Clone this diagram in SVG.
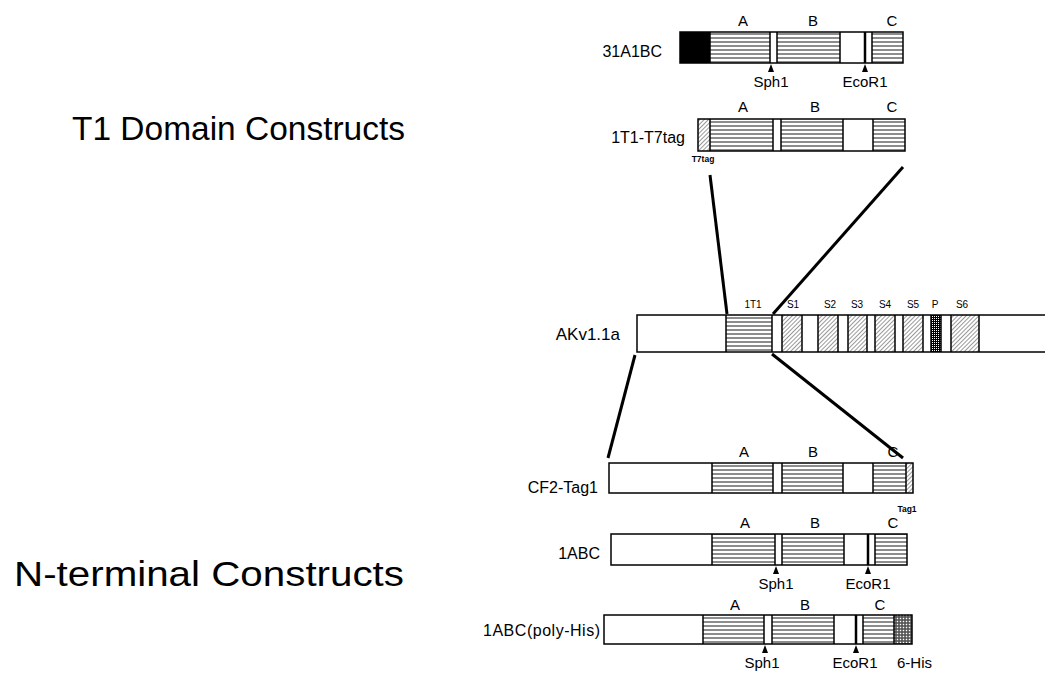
<svg xmlns="http://www.w3.org/2000/svg" width="1045" height="675" viewBox="0 0 1045 675">
<defs>
<pattern id="hl" patternUnits="userSpaceOnUse" width="6" height="4"><rect width="6" height="4" fill="#fff"/><line x1="0" y1="2" x2="6" y2="2" stroke="#000" stroke-width="0.9"/></pattern>
<pattern id="dg" patternUnits="userSpaceOnUse" width="3" height="3" patternTransform="rotate(45)"><rect width="3" height="3" fill="#fff"/><line x1="0" y1="0" x2="0" y2="3" stroke="#000" stroke-width="0.8"/></pattern>
<pattern id="dots" patternUnits="userSpaceOnUse" width="2" height="2"><rect width="2" height="2" fill="#000"/><rect width="1" height="1" fill="#fff"/></pattern>
<pattern id="xh" patternUnits="userSpaceOnUse" width="3" height="3"><rect width="3" height="3" fill="#777"/><rect width="1" height="1" fill="#fff"/><rect x="1.5" y="1.5" width="1" height="1" fill="#000"/></pattern>
</defs>
<style>
text{font-family:"Liberation Sans",Arial,sans-serif;fill:#000}
.t{font-size:16px;text-anchor:end}
.s{font-size:15px;text-anchor:middle}
.xs{font-size:8.5px;text-anchor:middle;font-weight:bold}
.d{font-size:10px;text-anchor:middle}
.bar{fill:none;stroke:#000;stroke-width:1.5}
.sep{stroke:#000;stroke-width:1.5}
.conn{stroke:#000;stroke-width:3;fill:none}
.h{fill:url(#hl)}
.g{fill:url(#dg)}
.w{fill:#fff}
</style>
<rect width="1045" height="675" fill="#fff"/>

<text font-size="34" x="72" y="140" textLength="333" lengthAdjust="spacingAndGlyphs">T1 Domain Constructs</text>
<text font-size="35" x="14" y="586" textLength="390" lengthAdjust="spacingAndGlyphs">N-terminal Constructs</text>

<g id="c31A1BC">
<text class="t" x="662" y="57">31A1BC</text>
<rect x="680" y="32" width="30" height="31" fill="#000"/>
<rect class="h" x="710" y="32" width="60" height="31"/>
<rect class="w" x="770" y="32" width="7" height="31"/>
<rect class="h" x="777" y="32" width="63" height="31"/>
<rect class="h" x="872" y="32" width="31" height="31"/>
<path class="sep" d="M710,32V63M770,32V63M777,32V63M840,32V63M872,32V63"/>
<line x1="865" y1="32" x2="865" y2="63" stroke="#000" stroke-width="2.5"/>
<rect class="bar" x="680" y="32" width="223" height="31"/>
<path d="M771,64L768,72L774,72Z M865,64L862,72L868,72Z"/>
<text class="s" x="743" y="26">A</text><text class="s" x="813" y="26">B</text><text class="s" x="892" y="26">C</text>
<text class="s" x="771" y="87">Sph1</text><text class="s" x="865" y="87">EcoR1</text>
</g>

<g id="c1T1T7">
<text class="t" x="685" y="143">1T1-T7tag</text>
<rect class="g" x="698" y="119" width="12" height="32"/>
<rect class="h" x="710" y="119" width="63" height="32"/>
<rect class="h" x="781" y="119" width="62" height="32"/>
<rect class="h" x="873" y="119" width="32" height="32"/>
<path class="sep" d="M710,119V151M773,119V151M781,119V151M843,119V151M873,119V151"/>
<rect class="bar" x="698" y="119" width="207" height="32"/>
<text class="s" x="743" y="112">A</text><text class="s" x="815" y="112">B</text><text class="s" x="892" y="112">C</text>
<text class="xs" x="703" y="162">T7tag</text>
</g>

<g id="cAKv">
<text font-size="17" x="620" y="340" text-anchor="end">AKv1.1a</text>
<rect class="h" x="726" y="315" width="46" height="37"/>
<rect class="g" x="782" y="315" width="20" height="37"/>
<rect class="g" x="818" y="315" width="20" height="37"/>
<rect class="g" x="848" y="315" width="19" height="37"/>
<rect class="g" x="875" y="315" width="20" height="37"/>
<rect class="g" x="903" y="315" width="20" height="37"/>
<rect x="931" y="315" width="10" height="37" fill="url(#dots)"/>
<rect class="g" x="951" y="315" width="28" height="37"/>
<path class="sep" d="M726,315V352M772,315V352M782,315V352M802,315V352M818,315V352M838,315V352M848,315V352M867,315V352M875,315V352M895,315V352M903,315V352M923,315V352M931,315V352M941,315V352M951,315V352M979,315V352"/>
<rect class="bar" x="637" y="315" width="420" height="37"/>
<text class="d" x="753" y="308">1T1</text><text class="d" x="793" y="308">S1</text><text class="d" x="830" y="308">S2</text><text class="d" x="857" y="308">S3</text><text class="d" x="885" y="308">S4</text><text class="d" x="913" y="308">S5</text><text class="d" x="935" y="308">P</text><text class="d" x="962" y="308">S6</text>
</g>

<g id="cCF2">
<text class="t" x="598" y="493">CF2-Tag1</text>
<rect class="h" x="712" y="463" width="61" height="30"/>
<rect class="h" x="782" y="463" width="61" height="30"/>
<rect class="h" x="873" y="463" width="33" height="30"/>
<rect class="g" x="906" y="463" width="7" height="30"/>
<path class="sep" d="M712,463V493M773,463V493M782,463V493M843,463V493M873,463V493M906,463V493"/>
<rect class="bar" x="609" y="463" width="304" height="30"/>
<text class="s" x="744" y="457">A</text><text class="s" x="813" y="457">B</text><text class="s" x="893" y="457">C</text>
<text class="xs" x="907" y="512">Tag1</text>
</g>

<g id="c1ABC">
<text class="t" x="600" y="559">1ABC</text>
<rect class="h" x="712" y="534" width="63" height="31"/>
<rect class="h" x="782" y="534" width="62" height="31"/>
<rect class="h" x="875" y="534" width="32" height="31"/>
<path class="sep" d="M712,534V565M775,534V565M782,534V565M844,534V565M875,534V565"/>
<line x1="868" y1="534" x2="868" y2="565" stroke="#000" stroke-width="2.5"/>
<rect class="bar" x="611" y="534" width="296" height="31"/>
<path d="M776,566L773,574L779,574Z M868,566L865,574L871,574Z"/>
<text class="s" x="745" y="528">A</text><text class="s" x="815" y="528">B</text><text class="s" x="893" y="528">C</text>
<text class="s" x="776" y="589">Sph1</text><text class="s" x="868" y="589">EcoR1</text>
</g>

<g id="c1ABCHis">
<text class="t" x="600" y="636" textLength="117">1ABC(poly-His)</text>
<rect class="h" x="703" y="615" width="61" height="29"/>
<rect class="h" x="772" y="615" width="62" height="29"/>
<rect class="h" x="863" y="615" width="31" height="29"/>
<rect x="894" y="615" width="18" height="29" fill="url(#xh)"/>
<path class="sep" d="M703,615V644M764,615V644M772,615V644M834,615V644M863,615V644M894,615V644"/>
<line x1="856" y1="615" x2="856" y2="644" stroke="#000" stroke-width="2.5"/>
<rect class="bar" x="604" y="615" width="308" height="29"/>
<path d="M765,645L762,653L768,653Z M856,645L853,653L859,653Z"/>
<text class="s" x="735" y="610">A</text><text class="s" x="805" y="610">B</text><text class="s" x="880" y="610">C</text>
<text class="s" x="762" y="668">Sph1</text><text class="s" x="855" y="668">EcoR1</text>
<text font-size="15" x="897" y="668">6-His</text>
</g>

<g id="connectors">
<line class="conn" x1="710" y1="175" x2="727" y2="314"/>
<line class="conn" x1="903" y1="167" x2="773" y2="314"/>
<line class="conn" x1="635" y1="355" x2="608" y2="458"/>
<line class="conn" x1="772" y1="354" x2="903" y2="458"/>
</g>
</svg>
